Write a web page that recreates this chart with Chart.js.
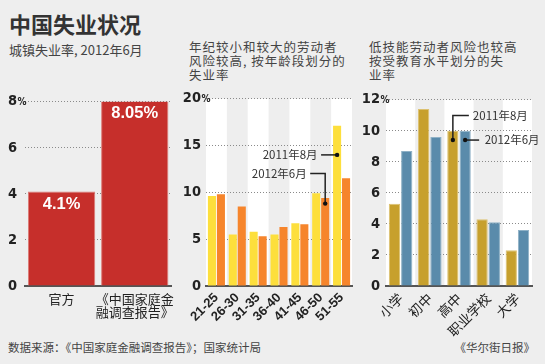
<!DOCTYPE html>
<html>
<head>
<meta charset="utf-8">
<script src="https://cdn.jsdelivr.net/npm/chart.js@4.4.1/dist/chart.umd.min.js"></script>
<style>
    body { margin: 0; background: #eeeeee; width: 545px; height: 364px; overflow: hidden; position: relative;
           font-family: "Noto Sans CJK SC", sans-serif; color: #333; }
    .txt { position: absolute; white-space: nowrap; }
    .sub { font-size: 12.5px; line-height: 14.2px; letter-spacing: 1px; color: #444; }
    canvas { position: absolute; }
</style>
</head>
<body>
<div class="txt" style="left:9px;top:12px;font-size:22px;line-height:22px;font-weight:bold;">中国失业状况</div>
<div class="txt" style="left:9px;top:43px;font-size:13px;line-height:13px;color:#444;">城镇失业率, 2012年6月</div>
<div class="txt sub" style="left:189px;top:40px;">年纪较小和较大的劳动者<br>风险较高, 按年龄段划分的<br>失业率</div>
<div class="txt sub" style="left:369px;top:40px;">低技能劳动者风险也较高<br>按受教育水平划分的失<br>业率</div>
<div class="txt" style="left:8px;top:341px;font-size:11.5px;line-height:12px;color:#444;">数据来源：《中国家庭金融调查报告》；国家统计局</div>
<div class="txt" style="right:10px;top:341px;font-size:11.5px;line-height:12px;color:#444;">《华尔街日报》</div>

<canvas id="rateChart" width="182" height="255" style="left:0;top:85px;"></canvas>
<canvas id="ageChart" width="182" height="255" style="left:180px;top:85px;"></canvas>
<canvas id="eduChart" width="185" height="255" style="left:360px;top:85px;"></canvas>

<script>
// urban unemployment rate, June 2012
const rateLabels = ['官方', ['《中国家庭金', '融调查报告》']];
const rateValues = [4.1, 8.05];
const rateText = ['4.1%', '8.05%'];

// by age group
const ageLabels = ['21-25', '26-30', '31-35', '36-40', '41-45', '46-50', '51-55'];
const age2011 = [9.6, 5.5, 5.8, 5.5, 6.7, 9.9, 17.1];
const age2012 = [9.8, 8.5, 5.3, 6.3, 6.6, 9.4, 11.5];

// by education level
const eduLabels = ['小学', '初中', '高中', '职业学校', '大学'];
const edu2011 = [5.3, 11.4, 10.0, 4.3, 2.3];
const edu2012 = [8.7, 9.6, 10.0, 4.1, 3.6];

const tickFont = { family: '"Liberation Sans Narrow", "DejaVu Sans Condensed", sans-serif', size: 14.5, weight: 'bold' };

// white column behind every other category
const bandsPlugin = {
    id: 'bands',
    beforeDraw(chart, args, opts) {
        if (!opts.on) return;
        const x = chart.scales.x;
        const area = chart.chartArea;
        const n = chart.data.labels.length;
        const w = (area.right - area.left) / n;
        const ctx = chart.ctx;
        ctx.save();
        ctx.fillStyle = '#ffffff';
        for (let i = 0; i < n; i += 2) {
            const c = x.getPixelForValue(i);
            ctx.fillRect(c - w / 2, area.top, w, area.bottom - area.top);
        }
        ctx.restore();
    }
};

// small % after the top tick label
const percentPlugin = {
    id: 'pct',
    afterDraw(chart) {
        const y = chart.scales.y;
        const ctx = chart.ctx;
        const top = y.getPixelForValue(y.max);
        const right = y.right - y.options.ticks.padding;
        ctx.save();
        ctx.font = 'bold 10px ' + tickFont.family;
        ctx.fillStyle = '#222';
        ctx.textBaseline = 'middle';
        ctx.textAlign = 'left';
        ctx.fillText('%', right + 0.5, top + 0.5);
        ctx.restore();
    }
};

// value labels inside the red bars
const valueLabelPlugin = {
    id: 'valueLabels',
    afterDatasetsDraw(chart, args, opts) {
        if (!opts.texts) return;
        const ctx = chart.ctx;
        const meta = chart.getDatasetMeta(0);
        ctx.save();
        ctx.font = 'bold 16.5px "Liberation Sans", sans-serif';
        ctx.fillStyle = '#ffffff';
        ctx.textAlign = 'center';
        ctx.textBaseline = 'middle';
        meta.data.forEach((bar, i) => {
            ctx.fillText(opts.texts[i], bar.x, bar.y + 13);
        });
        ctx.restore();
    }
};

// dot + leader line + date text
const calloutPlugin = {
    id: 'callouts',
    afterDatasetsDraw(chart, args, opts) {
        if (!opts.items) return;
        const ctx = chart.ctx;
        const y = chart.scales.y;
        ctx.save();
        opts.items.forEach(item => {
            const bar = chart.getDatasetMeta(item.ds).data[item.index];
            const x0 = bar.x;
            const y0 = y.getPixelForValue(item.at);
            ctx.strokeStyle = '#222';
            ctx.lineWidth = 1.5;
            ctx.beginPath();
            item.path.forEach((p, k) => {
                if (k === 0) ctx.moveTo(x0 + p[0], y0 + p[1]);
                else ctx.lineTo(x0 + p[0], y0 + p[1]);
            });
            ctx.stroke();
            ctx.fillStyle = '#111';
            ctx.beginPath();
            ctx.arc(x0, y0, 2.2, 0, Math.PI * 2);
            ctx.fill();
            ctx.font = '11.5px "Noto Sans CJK SC", sans-serif';
            ctx.fillStyle = '#333';
            ctx.textBaseline = 'middle';
            ctx.textAlign = item.align;
            ctx.fillText(item.text, x0 + item.textAt[0], y0 + item.textAt[1]);
        });
        ctx.restore();
    }
};

Chart.register(bandsPlugin, percentPlugin, valueLabelPlugin, calloutPlugin);

function baseOptions(cfg) {
    return {
        responsive: false,
        animation: false,
        events: [],
        layout: { padding: { left: 0, right: cfg.padRight, top: 11, bottom: 0 } },
        plugins: {
            legend: { display: false },
            tooltip: { enabled: false },
            bands: { on: cfg.bands },
            valueLabels: { texts: cfg.texts },
            callouts: { items: cfg.callouts }
        },
        scales: {
            x: {
                grid: { display: false, drawTicks: false },
                border: { display: true, color: '#555', width: 2 },
                ticks: {
                    color: '#222',
                    font: cfg.xFont,
                    padding: cfg.xPad,
                    autoSkip: false,
                    minRotation: cfg.rotation,
                    maxRotation: cfg.rotation
                },
                afterFit: s => { s.height = 54; }
            },
            y: {
                min: 0,
                max: cfg.max,
                grid: {
                    drawTicks: false,
                    color: c => c.tick && c.tick.value === 0 ? 'rgba(0,0,0,0)' : '#8a8a8a',
                    lineWidth: 1
                },
                border: { display: false, dash: [1, 2] },
                ticks: {
                    stepSize: cfg.step,
                    color: '#222',
                    font: tickFont,
                    padding: cfg.yPad
                },
                afterFit: s => { s.width = cfg.yWidth; }
            }
        }
    };
}

new Chart(document.getElementById('rateChart'), {
    type: 'bar',
    data: {
        labels: rateLabels,
        datasets: [{
            data: rateValues,
            backgroundColor: '#c62f2b',
            borderColor: '#dc7b76',
            borderWidth: 1,
            categoryPercentage: 1,
            barPercentage: 0.92
        }]
    },
    options: baseOptions({
        padRight: 9, yWidth: 25, yPad: 8, max: 8, step: 2, bands: false, rotation: 0, xPad: 6,
        xFont: { family: '"Noto Sans CJK SC", sans-serif', size: 13, lineHeight: 1.02 },
        texts: rateText
    })
});

new Chart(document.getElementById('ageChart'), {
    type: 'bar',
    data: {
        labels: ageLabels,
        datasets: [
            { label: '2011年8月', data: age2011, backgroundColor: '#fddf3c', categoryPercentage: 0.86, barPercentage: 0.9 },
            { label: '2012年6月', data: age2012, backgroundColor: '#f6852c', categoryPercentage: 0.86, barPercentage: 0.9 }
        ]
    },
    options: baseOptions({
        padRight: 10, yWidth: 26, yPad: 5, max: 20, step: 5, bands: true, rotation: 45, xPad: 4,
        xFont: { family: '"Liberation Sans Narrow", sans-serif', size: 13, weight: 'bold' },
        callouts: [
            { ds: 0, index: 6, at: 14.0, path: [[0, 0], [-16, 0]], textAt: [-19.5, 0], align: 'right', text: '2011年8月' },
            { ds: 1, index: 5, at: 8.8, path: [[0, 0], [0, -30], [-15, -30]], textAt: [-18.5, -30], align: 'right', text: '2012年6月' }
        ]
    })
});

new Chart(document.getElementById('eduChart'), {
    type: 'bar',
    data: {
        labels: eduLabels,
        datasets: [
            { label: '2011年8月', data: edu2011, backgroundColor: '#c7a02d', borderColor: '#dcc170', borderWidth: 1, categoryPercentage: 0.84, barPercentage: 0.92 },
            { label: '2012年6月', data: edu2012, backgroundColor: '#5a8bab', borderColor: '#8fb1c6', borderWidth: 1, categoryPercentage: 0.84, barPercentage: 0.92 }
        ]
    },
    options: baseOptions({
        padRight: 13, yWidth: 26, yPad: 6, max: 12, step: 2, bands: true, rotation: 45, xPad: 4,
        xFont: { family: '"Noto Sans CJK SC", sans-serif', size: 13.5 },
        callouts: [
            { ds: 0, index: 2, at: 9.4, path: [[0, 0], [0, -24.5], [16, -24.5]], textAt: [20, -24.5], align: 'left', text: '2011年8月' },
            { ds: 1, index: 2, at: 9.4, path: [[0, 0], [14, 0]], textAt: [19.5, 0], align: 'left', text: '2012年6月' }
        ]
    })
});
</script>
</body>
</html>
